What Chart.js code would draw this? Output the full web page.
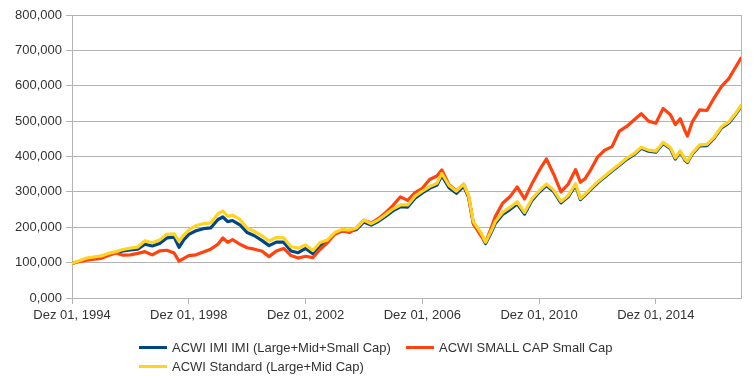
<!DOCTYPE html>
<html>
<head>
<meta charset="utf-8">
<script src="https://cdn.jsdelivr.net/npm/chart.js@4.4.0/dist/chart.umd.min.js"></script>
<style>
  html, body { margin: 0; padding: 0; background: #fff; }
  #wrap { position: relative; width: 756px; height: 378px; }
  .legend-item {
    position: absolute;
    font: 13px "Liberation Sans", Arial, sans-serif;
    color: #333;
    white-space: nowrap;
    line-height: 16px;
  }
  .legend-item span.swatch {
    display: inline-block;
    width: 28px;
    height: 3px;
    vertical-align: middle;
    margin-right: 5px;
    position: relative;
    top: -1px;
  }
</style>
</head>
<body>
<div id="wrap">
  <canvas id="lineChart" width="756" height="378"></canvas>
  <div class="legend-item" style="left:139px; top:340px;"><span class="swatch" style="background:#004586"></span>ACWI IMI IMI (Large+Mid+Small Cap)</div>
  <div class="legend-item" style="left:406px; top:340px;"><span class="swatch" style="background:#ff420e"></span>ACWI SMALL CAP Small Cap</div>
  <div class="legend-item" style="left:139px; top:359px;"><span class="swatch" style="background:#ffd320"></span>ACWI Standard (Large+Mid Cap)</div>
</div>
<script>
// Months counted from Dez 01, 1994
const months = [0, 3, 6, 9, 12, 15, 18, 21, 24, 27, 30, 33, 36, 39, 42, 44, 46, 48, 51, 54,
  57, 60, 62, 64, 66, 69, 72, 75, 78, 81, 84, 87, 90, 93, 96, 99, 102, 105, 108, 111,
  114, 117, 120, 123, 126, 129, 132, 135, 138, 141, 144, 147, 150, 152, 155, 158, 161, 163, 165, 168,
  170, 172, 174, 177, 180, 183, 186, 189, 192, 195, 198, 201, 204, 207, 209, 211, 213, 216, 219, 222,
  225, 228, 231, 234, 237, 240, 243, 246, 248, 250, 252, 253, 255, 258, 261, 264, 267, 270, 273, 275];

// ACWI IMI (Large+Mid+Small Cap)
const imiValues = [98000, 104000, 111000, 114000, 117000, 124000, 128000, 133000, 136000, 138000,
  152000, 147000, 154000, 170000, 172000, 143000, 165000, 180000, 190000, 196000,
  198000, 222000, 229000, 216000, 219000, 207000, 185000, 176000, 163000, 148000,
  158000, 158000, 133000, 128000, 140000, 125000, 150000, 160000, 181000, 190000,
  188000, 194000, 215000, 206000, 217000, 231000, 247000, 258000, 257000, 282000,
  297000, 310000, 319000, 346000, 312000, 296000, 316000, 285000, 210000, 181000,
  154000, 180000, 211000, 236000, 250000, 266000, 237000, 275000, 299000, 318000,
  301000, 269000, 286000, 319000, 278000, 291000, 305000, 325000, 342000, 359000,
  375000, 392000, 405000, 423000, 415000, 412000, 437000, 422000, 393000, 413000,
  389000, 383000, 407000, 430000, 431000, 452000, 481000, 495000, 521000, 541000];

// ACWI SMALL CAP
const smallValues = [98000, 103000, 107000, 110000, 112000, 120000, 127000, 121000, 122000, 126000,
  131000, 122000, 133000, 135000, 127000, 104000, 112000, 120000, 122000, 130000,
  138000, 152000, 170000, 157000, 165000, 152000, 142000, 138000, 133000, 117000,
  133000, 140000, 120000, 113000, 118000, 114000, 138000, 156000, 180000, 190000,
  185000, 198000, 220000, 212000, 225000, 242000, 262000, 286000, 276000, 298000,
  310000, 335000, 345000, 362000, 320000, 303000, 322000, 288000, 210000, 177000,
  158000, 192000, 230000, 268000, 286000, 314000, 280000, 322000, 360000, 393000,
  350000, 300000, 322000, 363000, 327000, 338000, 360000, 398000, 418000, 428000,
  472000, 485000, 503000, 521000, 500000, 494000, 536000, 518000, 490000, 507000,
  472000, 458000, 498000, 532000, 530000, 566000, 598000, 620000, 655000, 678000];

// ACWI Standard (Large+Mid Cap)
const standardValues = [98000, 105000, 113000, 116000, 119000, 126000, 131000, 137000, 141000, 144000,
  162000, 156000, 164000, 180000, 181000, 160000, 178000, 192000, 205000, 210000,
  212000, 238000, 246000, 231000, 234000, 222000, 198000, 188000, 176000, 161000,
  171000, 170000, 145000, 141000, 150000, 134000, 157000, 164000, 185000, 194000,
  192000, 198000, 220000, 210000, 221000, 236000, 252000, 263000, 263000, 288000,
  302000, 315000, 324000, 352000, 318000, 302000, 322000, 290000, 215000, 186000,
  158000, 185000, 216000, 242000, 256000, 272000, 242000, 280000, 303000, 322000,
  305000, 273000, 290000, 323000, 281000, 294000, 308000, 328000, 345000, 362000,
  378000, 395000, 408000, 426000, 418000, 415000, 440000, 425000, 396000, 416000,
  392000, 386000, 410000, 433000, 434000, 455000, 484000, 498000, 524000, 544000];

const xTickLabels = ["Dez 01, 1994", "Dez 01, 1998", "Dez 01, 2002", "Dez 01, 2006", "Dez 01, 2010", "Dez 01, 2014"];
const yTickLabels = ["0,000", "100,000", "200,000", "300,000", "400,000", "500,000", "600,000", "700,000", "800,000"];

const gridColor = "#b3b3b3";
const textColor = "#333333";
const fontFamily = "'Liberation Sans', Arial, sans-serif";

function toPoints(values) {
  return values.map((v, i) => ({ x: months[i], y: v }));
}

// draws the right edge line of the plot area
const rightFrame = {
  id: "rightFrame",
  beforeDatasetsDraw(chart) {
    const a = chart.chartArea;
    const ctx = chart.ctx;
    ctx.save();
    ctx.strokeStyle = gridColor;
    ctx.lineWidth = 1;
    ctx.beginPath();
    ctx.moveTo(Math.round(a.right) + 0.5, a.top);
    ctx.lineTo(Math.round(a.right) + 0.5, a.bottom);
    ctx.stroke();
    ctx.restore();
  }
};

function lineSet(label, values, color, order) {
  return {
    label: label,
    data: toPoints(values),
    borderColor: color,
    borderWidth: 3.2,
    borderJoinStyle: "round",
    borderCapStyle: "round",
    pointRadius: 0,
    tension: 0,
    order: order
  };
}

document.addEventListener("DOMContentLoaded", function () {
  const ctx = document.getElementById("lineChart").getContext("2d");

  new Chart(ctx, {
    type: "line",
    data: {
      datasets: [
        lineSet("ACWI IMI IMI (Large+Mid+Small Cap)", imiValues, "#004586", 2),
        lineSet("ACWI SMALL CAP Small Cap", smallValues, "#ff420e", 1),
        lineSet("ACWI Standard (Large+Mid Cap)", standardValues, "#ffd320", 0)
      ]
    },
    options: {
      responsive: false,
      animation: false,
      devicePixelRatio: 1,
      layout: {
        padding: { top: 15, right: 15, bottom: 0, left: 0 }
      },
      plugins: {
        legend: { display: false },
        tooltip: { enabled: false }
      },
      scales: {
        x: {
          type: "linear",
          min: 0,
          max: 275,
          afterBuildTicks: function (scale) {
            scale.ticks = scale.ticks.filter((t) => t.value % 48 === 0);
          },
          afterFit: function (scale) {
            scale.height = 80;
          },
          ticks: {
            stepSize: 48,
            autoSkip: false,
            maxRotation: 0,
            padding: 4,
            color: textColor,
            font: { family: fontFamily, size: 13 },
            callback: function (value) {
              return xTickLabels[value / 48];
            }
          },
          grid: {
            drawOnChartArea: false,
            drawTicks: true,
            tickLength: 6,
            color: gridColor
          },
          border: { color: gridColor }
        },
        y: {
          min: 0,
          max: 800000,
          afterFit: function (scale) {
            scale.width = 72;
          },
          ticks: {
            stepSize: 100000,
            padding: 4,
            color: textColor,
            font: { family: fontFamily, size: 13 },
            callback: function (value) {
              return yTickLabels[Math.round(value / 100000)];
            }
          },
          grid: {
            color: gridColor,
            tickLength: 6
          },
          border: { color: gridColor }
        }
      }
    },
    plugins: [rightFrame]
  });
});
</script>
</body>
</html>
